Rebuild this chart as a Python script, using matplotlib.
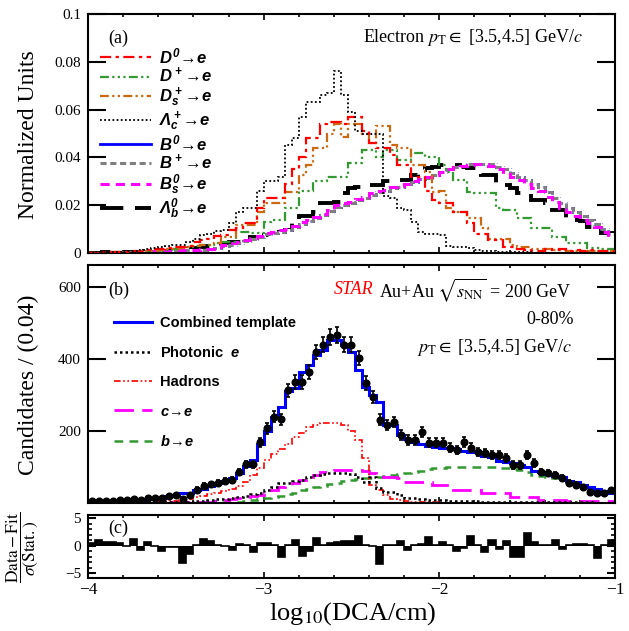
import numpy as np
import matplotlib
matplotlib.use("Agg")
import matplotlib.pyplot as plt
from matplotlib.lines import Line2D
from matplotlib.ticker import MultipleLocator
from matplotlib.font_manager import FontProperties

plt.rcParams['font.family'] = 'Liberation Serif'
plt.rcParams['mathtext.fontset'] = 'custom'
plt.rcParams['mathtext.it'] = 'Liberation Sans:bold:italic'
plt.rcParams['mathtext.rm'] = 'Liberation Sans:bold:italic'
plt.rcParams['mathtext.bf'] = 'Liberation Sans:bold'

# binning: log10(DCA/cm) from -4 to -1, width 0.04
edges = np.linspace(-4, -1, 76)
centers = 0.5 * (edges[:-1] + edges[1:])

# ---- panel (a): normalized templates ----
d0 = [0.0002, 0.0002, 0.0003, 0.0004, 0.0005, 0.0006, 0.0008, 0.001, 0.0012, 0.0015,
      0.0018, 0.002, 0.0025, 0.0025, 0.003, 0.0045, 0.0055, 0.006, 0.007, 0.0075,
      0.0096, 0.0105, 0.0125, 0.0125, 0.019, 0.023, 0.023, 0.023, 0.029, 0.035,
      0.040, 0.048, 0.048, 0.054, 0.055, 0.055, 0.054, 0.057, 0.057, 0.051,
      0.046, 0.044, 0.044, 0.041, 0.037, 0.037, 0.032, 0.032, 0.026, 0.022,
      0.021, 0.021, 0.017, 0.017, 0.0125, 0.008, 0.008, 0.0055, 0.0055, 0.0025,
      0.0025, 0.0015, 0.0012, 0.001, 0.001, 0.0015, 0.0012, 0.0015, 0.001, 0.0012,
      0.001, 0.0012, 0.001, 0.0008, 0.001]
dplus = [0.0001, 0.0001, 0.0002, 0.0002, 0.0003, 0.0003, 0.0004, 0.0005, 0.0006, 0.0008,
         0.001, 0.0012, 0.0015, 0.002, 0.0025, 0.003, 0.0033, 0.0035, 0.004, 0.0046,
         0.0046, 0.009, 0.009, 0.0084, 0.0084, 0.013, 0.0138, 0.0138, 0.019, 0.019,
         0.026, 0.026, 0.030, 0.030, 0.032, 0.032, 0.032, 0.0375, 0.0375, 0.043,
         0.043, 0.040, 0.043, 0.043, 0.039, 0.039, 0.042, 0.042, 0.040, 0.040,
         0.037, 0.034, 0.0305, 0.0305, 0.0255, 0.025, 0.025, 0.025, 0.019, 0.018,
         0.018, 0.0146, 0.0146, 0.0105, 0.0105, 0.0105, 0.0067, 0.0067, 0.004, 0.004,
         0.004, 0.002, 0.002, 0.0018, 0.0015]
ds = [0.0001, 0.0002, 0.0002, 0.0003, 0.0003, 0.0004, 0.0005, 0.0006, 0.0008, 0.001,
      0.0012, 0.0015, 0.0018, 0.002, 0.0025, 0.003, 0.0033, 0.0035, 0.004, 0.0067,
      0.0067, 0.0117, 0.0117, 0.0117, 0.017, 0.021, 0.021, 0.021, 0.0255, 0.0255,
      0.0326, 0.037, 0.044, 0.044, 0.050, 0.054, 0.0485, 0.054, 0.054, 0.050,
      0.046, 0.053, 0.053, 0.045, 0.044, 0.044, 0.037, 0.037, 0.034, 0.0255,
      0.026, 0.019, 0.017, 0.017, 0.0146, 0.0146, 0.0105, 0.006, 0.006, 0.006,
      0.0035, 0.0025, 0.0025, 0.0018, 0.0015, 0.0015, 0.0012, 0.0012, 0.001, 0.001,
      0.001, 0.0009, 0.0008, 0.0008, 0.0008]
lc = [0.0002, 0.0003, 0.0003, 0.0005, 0.0005, 0.0008, 0.001, 0.0012, 0.0015, 0.002,
      0.0025, 0.003, 0.0033, 0.0035, 0.0045, 0.006, 0.0075, 0.008, 0.0092, 0.0096,
      0.0125, 0.017, 0.019, 0.019, 0.026, 0.030, 0.030, 0.032, 0.045, 0.048,
      0.057, 0.063, 0.063, 0.066, 0.067, 0.076, 0.066, 0.059, 0.051, 0.050,
      0.050, 0.050, 0.024, 0.023, 0.019, 0.018, 0.013, 0.009, 0.008, 0.008,
      0.0075, 0.003, 0.0025, 0.0025, 0.002, 0.0012, 0.001, 0.0008, 0.0006, 0.0005,
      0.0004, 0.0003, 0.0003, 0.0002, 0.0002, 0.0002, 0.0001, 0.0001, 0.0001, 0.0001,
      0.0001, 0.0001, 0.0, 0.0, 0.0]
b0 = [0.0001, 0.0001, 0.0001, 0.0002, 0.0002, 0.0003, 0.0003, 0.0004, 0.0005, 0.0006,
      0.0007, 0.0008, 0.0009, 0.001, 0.0011, 0.0012, 0.0014, 0.0016, 0.0022, 0.0028,
      0.0035, 0.0042, 0.005, 0.0058, 0.0068, 0.0078, 0.0085, 0.009, 0.0096, 0.011,
      0.0122, 0.0133, 0.0145, 0.016, 0.0175, 0.0192, 0.0203, 0.021, 0.022, 0.023,
      0.0243, 0.0255, 0.026, 0.027, 0.0278, 0.0288, 0.0298, 0.0308, 0.0315, 0.0325,
      0.0338, 0.035, 0.036, 0.0366, 0.0372, 0.0374, 0.0374, 0.0372, 0.0362, 0.035,
      0.0335, 0.032, 0.0305, 0.029, 0.0275, 0.0255, 0.0232, 0.021, 0.019, 0.0172,
      0.0155, 0.014, 0.0122, 0.0102, 0.008]
bplus = [0.0001, 0.0001, 0.0001, 0.0002, 0.0002, 0.0003, 0.0003, 0.0004, 0.0005, 0.0006,
         0.0007, 0.0008, 0.0009, 0.001, 0.0011, 0.0012, 0.0014, 0.0016, 0.0022, 0.0028,
         0.0035, 0.0042, 0.005, 0.0058, 0.0068, 0.0078, 0.0085, 0.009, 0.0096, 0.011,
         0.0122, 0.0133, 0.0145, 0.016, 0.0175, 0.0192, 0.0203, 0.021, 0.022, 0.023,
         0.0243, 0.0255, 0.026, 0.027, 0.0278, 0.0288, 0.0298, 0.0308, 0.0315, 0.0325,
         0.0338, 0.035, 0.036, 0.0366, 0.0372, 0.0374, 0.0374, 0.0372, 0.0362, 0.035,
         0.0335, 0.032, 0.0305, 0.029, 0.0275, 0.0255, 0.0232, 0.021, 0.019, 0.0172,
         0.0155, 0.014, 0.0122, 0.0102, 0.008]
bs = [0.0001, 0.0001, 0.0002, 0.0002, 0.0003, 0.0004, 0.0004, 0.0005, 0.0006, 0.0007,
      0.0008, 0.0009, 0.001, 0.0011, 0.0012, 0.0013, 0.0015, 0.0018, 0.0025, 0.0032,
      0.004, 0.0046, 0.0055, 0.0062, 0.0072, 0.0084, 0.009, 0.0095, 0.010, 0.0115,
      0.0128, 0.014, 0.015, 0.0165, 0.018, 0.020, 0.021, 0.0215, 0.0225, 0.0235,
      0.025, 0.026, 0.0265, 0.0275, 0.028, 0.029, 0.030, 0.031, 0.0318, 0.0328,
      0.034, 0.035, 0.036, 0.0365, 0.037, 0.0372, 0.0372, 0.0365, 0.035, 0.033,
      0.032, 0.0305, 0.029, 0.027, 0.026, 0.0235, 0.0213, 0.019, 0.017, 0.0155,
      0.0138, 0.0125, 0.011, 0.009, 0.0067]
lb = [0.0002, 0.0002, 0.0003, 0.0003, 0.0004, 0.0004, 0.0005, 0.0006, 0.0007, 0.0008,
      0.0009, 0.001, 0.0012, 0.0015, 0.0018, 0.0022, 0.0025, 0.0028, 0.003, 0.0035,
      0.0046, 0.0046, 0.005, 0.0067, 0.0067, 0.0075, 0.0088, 0.0088, 0.0095, 0.0125,
      0.0155, 0.0155, 0.017, 0.021, 0.021, 0.0215, 0.025, 0.027, 0.0276, 0.0276,
      0.0285, 0.0285, 0.030, 0.0305, 0.0305, 0.0305, 0.0326, 0.0347, 0.0356, 0.036,
      0.037, 0.037, 0.037, 0.0358, 0.0356, 0.0356, 0.0326, 0.0326, 0.0285, 0.0285,
      0.027, 0.025, 0.025, 0.022, 0.022, 0.021, 0.018, 0.018, 0.0138, 0.0138,
      0.0135, 0.011, 0.011, 0.0084, 0.0084]

# ---- panel (b): fit to data ----
data = [5, 6, 5, 6, 7, 7, 10, 7, 13, 13,
        13, 18, 21, 12, 22, 37, 48, 52, 56, 62,
        64, 86, 107, 107, 168, 207, 240, 232, 313, 336,
        336, 364, 419, 439, 461, 467, 439, 439, 403, 333,
        294, 231, 217, 225, 189, 175, 175, 197, 167, 167,
        167, 153, 147, 169, 153, 142, 139, 133, 133, 125,
        106, 106, 133, 111, 86, 83, 78, 69, 55, 50,
        44, 31, 28, 28, 36]
combined = [4, 4, 5, 5, 6, 7, 8, 9, 11, 13,
            15, 18, 22, 27, 28, 36, 40, 46, 55, 62,
            70, 84, 104, 120, 163, 201, 239, 267, 310, 318,
            364, 383, 411, 425, 453, 453, 440, 419, 369, 322,
            300, 280, 217, 217, 189, 178, 169, 164, 158, 156,
            153, 153, 150, 144, 142, 142, 130, 128, 116, 114,
            110, 106, 100, 88, 86, 80, 74, 72, 60, 58,
            50, 44, 40, 32, 28]
photonic = [0, 0, 0, 0, 0, 1, 1, 1, 1, 2,
            2, 2, 3, 3, 4, 5, 6, 8, 10, 12,
            15, 17, 20, 24, 28, 35, 45, 55, 55, 60,
            64, 72, 78, 80, 83, 83, 83, 80, 72, 58,
            72, 42, 31, 31, 22, 14, 14, 12, 8, 8,
            7, 6, 6, 5, 5, 5, 4, 4, 4, 4,
            3, 3, 3, 3, 3, 2, 2, 2, 2, 2,
            2, 2, 1, 1, 1]
hadrons = [0, 0, 0, 0, 1, 1, 1, 2, 2, 3,
           4, 5, 6, 8, 12, 16, 20, 24, 28, 33,
           40, 48, 58, 78, 97, 119, 135, 150, 165, 183,
           195, 211, 217, 222, 222, 222, 217, 200, 175, 125,
           50, 36, 22, 12, 8, 5, 4, 3, 2, 2,
           1, 1, 1, 1, 1, 1, 1, 1, 0, 0,
           0, 0, 0, 0, 0, 0, 0, 0, 0, 0,
           0, 0, 0, 0, 0]
charm = [0, 0, 0, 0, 0, 0, 0, 1, 1, 1,
         1, 2, 2, 2, 3, 3, 3, 4, 6, 8,
         10, 14, 16, 18, 22, 28, 36, 45, 50, 55,
         64, 72, 78, 85, 88, 92, 92, 92, 92, 88,
         83, 80, 72, 72, 70, 58, 58, 58, 58, 50,
         50, 50, 36, 36, 36, 36, 28, 28, 28, 28,
         17, 17, 17, 17, 8, 8, 8, 8, 5, 5,
         5, 5, 5, 5, 5]
bottom = [0, 0, 0, 0, 0, 0, 0, 0, 0, 0,
          0, 0, 0, 0, 0, 0, 1, 1, 2, 2,
          3, 4, 5, 8, 10, 14, 16, 20, 24, 28,
          36, 40, 44, 48, 52, 56, 60, 64, 66, 68,
          70, 72, 74, 78, 80, 83, 86, 90, 94, 97,
          98, 100, 100, 100, 100, 100, 100, 100, 98, 97,
          95, 92, 85, 78, 76, 72, 69, 64, 58, 55,
          48, 42, 38, 32, 28]

# ---- panel (c): (data - fit) / sigma ----
resid = [0.5, 1.0, 0.6, 0.6, 0.5, 0.0, 1.2, -0.8, 0.7, 0.0,
         -1.0, -0.2, -0.2, -3.2, -1.6, 0.1, 1.2, 0.9, 0.1, -0.1,
         -0.7, 0.3, 0.2, -1.2, 0.4, 0.4, 0.1, -2.0, 0.2, 1.0,
         -1.8, -1.0, 1.4, 0.1, 0.5, 0.6, 0.8, 0.8, 1.7, 0.1,
         0.0, -3.4, 0.1, 0.1, 0.8, -0.7, 0.2, 0.3, 1.6, 0.1,
         0.7, 0.1, -1.0, -0.5, 1.7, 0.1, -1.2, 1.0, -0.6, 0.8,
         -2.0, -2.0, 2.3, 0.6, 0.1, 0.2, 1.0, -0.6, 0.1, 0.3,
         0.3, 0.1, -2.2, 0.1, 1.0]

RED = '#ff0000'
GREEN = '#339933'
ORANGE = '#cc6a14'
MAGENTA = '#ff00ff'
BLUE = '#0000ff'
GRAY = '#808080'

fig = plt.figure(figsize=(6.29, 6.31), dpi=100)
ax_a = fig.add_axes([0.1399, 0.5990, 0.8378, 0.3788])
ax_b = fig.add_axes([0.1399, 0.2029, 0.8378, 0.3772])
ax_c = fig.add_axes([0.1399, 0.0840, 0.8378, 0.0998])


def root_style(ax, ylen=13):
    ax.set_xlim(-4, -1)
    ax.xaxis.set_major_locator(MultipleLocator(1))
    ax.xaxis.set_minor_locator(MultipleLocator(0.2))
    ax.tick_params(which='both', direction='in', top=True, right=True,
                   labelsize=11, pad=5)
    ax.tick_params(axis='x', which='major', length=4.5, width=1.2)
    ax.tick_params(axis='x', which='minor', length=2.5, width=1.2)
    ax.tick_params(axis='y', which='major', length=ylen, width=1.5)
    ax.tick_params(axis='y', which='minor', length=3, width=1.2)
    for s in ax.spines.values():
        s.set_linewidth(1.5)


# panel (a)
sty_d0 = dict(color=RED, ls=(0, (5, 2, 1.5, 2)), lw=1.6)
sty_dp = dict(color=GREEN, ls=(0, (4, 1.5, 1, 1.5, 1, 1.5, 1, 1.5)), lw=1.6)
sty_ds = dict(color=ORANGE, ls=(0, (4, 1.5, 1, 1.5, 1, 1.5)), lw=1.6)
sty_lc = dict(color='black', ls=(0, (1, 1.3)), lw=1.3)
sty_b0 = dict(color=BLUE, ls='-', lw=2.0)
sty_bp = dict(color=GRAY, ls=(0, (2, 1.2)), lw=2.2)
sty_bs = dict(color=MAGENTA, ls=(0, (3, 2)), lw=2.2)
sty_lb = dict(color='black', ls=(0, (6, 3)), lw=2.8)

ax_a.stairs(lb, edges, baseline=None, zorder=2, **sty_lb)
ax_a.stairs(b0, edges, baseline=None, zorder=2.1, **sty_b0)
ax_a.step(edges, np.append(bplus, bplus[-1]), where='post', gapcolor='white',
          zorder=2.2, **sty_bp)
ax_a.stairs(bs, edges, baseline=None, zorder=2.3, **sty_bs)
ax_a.stairs(dplus, edges, baseline=None, zorder=2.4, **sty_dp)
ax_a.stairs(ds, edges, baseline=None, zorder=2.5, **sty_ds)
ax_a.stairs(d0, edges, baseline=None, zorder=2.6, **sty_d0)
ax_a.stairs(lc, edges, baseline=None, zorder=2.7, **sty_lc)

root_style(ax_a)
ax_a.set_ylim(0, 0.1)
ax_a.set_yticks([0, 0.02, 0.04, 0.06, 0.08, 0.1],
                labels=['0', '0.02', '0.04', '0.06', '0.08', '0.1'])
ax_a.tick_params(axis='x', labelbottom=False)

names_a = [r'$D^0\!\rightarrow\! e$', r'$D^+\!\rightarrow\! e$', r'$D_s^+\!\rightarrow\! e$',
           r'$\Lambda_c^+\!\rightarrow\! e$', r'$B^0\!\rightarrow\! e$', r'$B^+\!\rightarrow\! e$',
           r'$B_s^0\!\rightarrow\! e$', r'$\Lambda_b^0\!\rightarrow\! e$']
styles_a = [sty_d0, sty_dp, sty_ds, sty_lc, sty_b0, sty_bp, sty_bs, sty_lb]
handles_a = [Line2D([], [], **s) for s in styles_a]
prop_a = FontProperties(family='Liberation Sans', weight='bold', style='italic',
                        size=12, math_fontfamily='custom')
ax_a.legend(handles_a, names_a, loc='upper left', bbox_to_anchor=(0.022, 0.865),
            frameon=False, prop=prop_a, handlelength=3.1, handletextpad=0.45,
            labelspacing=0.0, borderpad=0, borderaxespad=0)

ax_a.text(0.038, 0.90, '(a)', transform=ax_a.transAxes, fontsize=13,
          ha='left', va='center')
ax_a.text(0.939, 0.90, r'Electron $p_{\mathrm{T}}\in$ [3.5,4.5] GeV/$c$',
          transform=ax_a.transAxes, fontsize=13, ha='right', va='center',
          math_fontfamily='stix')

# panel (b)
sty_comb = dict(color=BLUE, ls='-', lw=2.2)
sty_pho = dict(color='black', ls=(0, (1, 1.2)), lw=1.8)
sty_had = dict(color=RED, ls=(0, (4, 1.5, 1, 1.5, 1, 1.5)), lw=1.2)
sty_c = dict(color=MAGENTA, ls=(0, (7, 3)), lw=2.0)
sty_b = dict(color=GREEN, ls=(0, (3.5, 2.5)), lw=1.8)

ax_b.stairs(bottom, edges, baseline=None, zorder=2, **sty_b)
ax_b.stairs(charm, edges, baseline=None, zorder=2.1, **sty_c)
ax_b.stairs(hadrons, edges, baseline=None, zorder=2.2, **sty_had)
ax_b.stairs(photonic, edges, baseline=None, zorder=2.3, **sty_pho)
ax_b.stairs(combined, edges, baseline=None, zorder=2.4, **sty_comb)
ax_b.errorbar(centers, data, yerr=np.sqrt(data), fmt='o', color='black', ms=4.8,
              elinewidth=1.2, capsize=1.6, capthick=1.2, zorder=3)

root_style(ax_b)
ax_b.set_ylim(0, 661)
ax_b.set_yticks([200, 400, 600])
ax_b.tick_params(axis='x', labelbottom=False)

names_b = ['Combined template', r'Photonic  $e$', 'Hadrons',
           r'$c\!\rightarrow\! e$', r'$b\!\rightarrow\! e$']
styles_b = [sty_comb, sty_pho, sty_had, sty_c, sty_b]
handles_b = [Line2D([], [], **s) for s in styles_b]
prop_b = FontProperties(family='Liberation Sans', weight='bold', size=10.5,
                        math_fontfamily='custom')
ax_b.legend(handles_b, names_b, loc='upper left', bbox_to_anchor=(0.05, 0.787),
            frameon=False, prop=prop_b, handlelength=2.6, handletextpad=0.5,
            labelspacing=1.05, borderpad=0, borderaxespad=0)

ax_b.text(0.038, 0.895, '(b)', transform=ax_b.transAxes, fontsize=13,
          ha='left', va='center')
t_au = ax_b.text(0.918, 0.895, r'Au+Au $\sqrt{s_{\mathrm{NN}}}$ = 200 GeV',
                 transform=ax_b.transAxes, fontsize=13, ha='right', va='center',
                 math_fontfamily='stix')
ax_b.annotate('STAR', xy=(0, 0.5), xycoords=t_au, xytext=(-4, 0),
              textcoords='offset points', ha='right', va='center',
              fontsize=13, style='italic', color=RED)
ax_b.text(0.922, 0.77, '0-80%', transform=ax_b.transAxes, fontsize=13,
          ha='right', va='center')
ax_b.text(0.920, 0.655, r'$p_{\mathrm{T}}\in$ [3.5,4.5] GeV/$c$',
          transform=ax_b.transAxes, fontsize=13, ha='right', va='center',
          math_fontfamily='stix')

# panel (c)
ax_c.stairs(resid, edges, baseline=0, fill=True, color='black', zorder=2)
ax_c.stairs(resid, edges, baseline=None, color='black', lw=1.2, zorder=2)
root_style(ax_c, ylen=6)
ax_c.set_ylim(-5.9, 5.6)
ax_c.set_yticks([-5, 0, 5])
ax_c.yaxis.set_minor_locator(MultipleLocator(1))
ax_c.tick_params(axis='x', labelsize=12.5, pad=3)
ax_c.text(0.038, 0.79, '(c)', transform=ax_c.transAxes, fontsize=13,
          ha='left', va='center')

# axis titles
fig.text(0.045, 0.786, 'Normalized Units', rotation=90, fontsize=17,
         ha='center', va='center')
fig.text(0.045, 0.39, 'Candidates / (0.04)', rotation=90, fontsize=17,
         ha='center', va='center')
fig.text(0.035, 0.132, r'$\dfrac{\mathrm{Data-Fit}}{\sigma(\mathrm{Stat.})}$',
         rotation=90, fontsize=12.5, ha='center', va='center',
         math_fontfamily='stix')
fig.text(0.56, 0.027, r'log$_{10}$(DCA/cm)', fontsize=19, ha='center',
         va='center', math_fontfamily='stix')

fig.savefig('out.png', dpi=100)
